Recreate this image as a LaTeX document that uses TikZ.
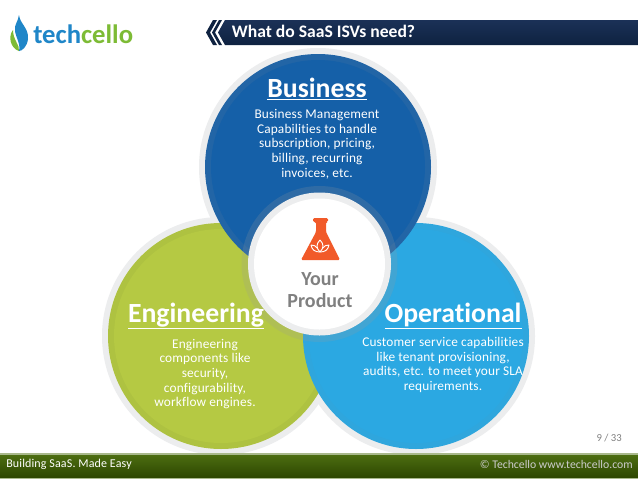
\documentclass[tikz,border=0pt]{standalone}
\usepackage{fontspec}
\setmainfont[Ligatures=NoCommon]{Carlito}
\newfontfamily\spaced[LetterSpace=1.2,Ligatures=NoCommon]{Carlito}
\usetikzlibrary{positioning}
\definecolor{bizblue}{HTML}{1560A8}
\definecolor{bizrim}{HTML}{2265A6}
\definecolor{enggreen}{HTML}{B5C943}
\definecolor{engrim}{HTML}{AEC241}
\definecolor{opsblue}{HTML}{2BA8E2}
\definecolor{opsrim}{HTML}{2FA6DD}
\definecolor{ringgrey}{HTML}{ECEDEE}
\definecolor{flask}{HTML}{F15A29}
\definecolor{navytop}{HTML}{1B3157}
\definecolor{navybot}{HTML}{0E2240}
\definecolor{foottop}{HTML}{4F7012}
\definecolor{footbot}{HTML}{2C4600}
\definecolor{footline}{HTML}{A9B98C}
\definecolor{logoblue}{HTML}{1F86C8}
\definecolor{logogreen}{HTML}{7DBB35}

\begin{document}
\begin{tikzpicture}[x=0.75pt,y=-0.75pt]

\tikzset{ring/.style = {shape=circle,fill=ringgrey,inner sep=0,minimum size=#1*0.75pt}}
\tikzset{disc/.style = {shape=circle,fill=#1,inner sep=0,minimum size=226*0.75pt}}
\tikzset{head/.style = {text=white,font=\fontsize{20.8}{24}\selectfont\bfseries}}
\tikzset{body/.style = {text=white,align=center,font=\spaced\fontsize{10}{11}\selectfont}}
\tikzset{prod/.style = {text=black!50,font=\fontsize{15}{16.5}\selectfont\bfseries}}
\tikzset{foot/.style = {text=white,font=\spaced\fontsize{9}{11}\selectfont}}

\useasboundingbox (0,0) rectangle (638,479);
\fill[white] (0,0) rectangle (638,479);

%title bar
\shade[top color=navytop,bottom color=navybot] (225,20) -- (638,20) -- (638,45) -- (225,45) -- (218,32.5) -- cycle;
\fill[navybot] (213,20) -- (217,20) -- (210,32.5) -- (217,45) -- (213,45) -- (206,32.5) -- cycle;
\fill[navybot] (219,20) -- (222,20) -- (215,32.5) -- (222,45) -- (219,45) -- (212,32.5) -- cycle;
\node[text=white,font=\fontsize{13.2}{16}\selectfont\bfseries] (title) at (323.5,31) {What do SaaS ISVs need?};

%logo
\fill[logoblue] (19,15) .. controls (20,24) and (29,28) .. (28,39) .. controls (27,47) and (22,51) .. (19,51) .. controls (21,44) and (15,36) .. (15,30) .. controls (14,25) and (18,22) .. (19,15);
\fill[logogreen] (13,30) .. controls (8,36) and (10,48) .. (19,51) .. controls (20,45) and (13,40) .. (13,30);
\node[font=\fontsize{20}{26}\selectfont\bfseries,inner sep=0,anchor=west] (logo) at (33,34) {\textcolor{logoblue}{tech}\textcolor{logogreen}{cello}};

%rings
\node[ring=238] (bizring) at (318,167) {};
\node[ring=238] (engring) at (221,336) {};
\node[ring=238] (opsring) at (416,336) {};

%discs
\node[disc=engrim] (engrimdisc) at (221,336) {};
\node[shape=circle,fill=enggreen,inner sep=0,minimum size=214*0.75pt] (engdisc) at (221,336) {};
\node[disc=opsrim] (opsrimdisc) at (416,336) {};
\node[shape=circle,fill=opsblue,inner sep=0,minimum size=214*0.75pt] (opsdisc) at (416,336) {};
\node[disc=bizrim] (bizrimdisc) at (318,167) {};
\node[shape=circle,fill=bizblue,inner sep=0,minimum size=214*0.75pt] (bizdisc) at (318,167) {};

%centre
\node[shape=circle,fill=black!40,fill opacity=0.2,inner sep=0,minimum size=156*0.75pt] (halo) at (319.5,264) {};
\node[ring=143] (prodring) at (319.5,264) {};
\node[shape=circle,fill=white,inner sep=0,minimum size=131*0.75pt] (proddisc) at (319.5,264) {};

%flask
\fill[flask,rounded corners=1pt] (313,218) -- (328,218) -- (328,222) -- (326,222) -- (326,232) -- (340,260) -- (301,260) -- (316,232) -- (316,222) -- (313,222) -- cycle;
\draw[white,line width=0.7pt,line join=round] (320,240) .. controls (316,244) and (316,248) .. (320,252) .. controls (324,248) and (324,244) .. (320,240);
\draw[white,line width=0.7pt,line join=round] (311,245) .. controls (312,250) and (315,252) .. (320,252) .. controls (325,252) and (328,250) .. (329,245) .. controls (326,245) and (324,246) .. (323,248);
\draw[white,line width=0.7pt] (311,245) .. controls (314,245) and (316,246) .. (317,248);

%texts
\node[head] (bizhead) at (317,89) {\underline{Business}};
\node[body] (biztext) at (317,144) {Business Management\\Capabilities to handle\\subscription, pricing,\\billing, recurring\\invoices, etc.};
\node[head] (enghead) at (196,316) {\underline{Engineering}};
\node[body] (engtext) at (205,374) {Engineering\\components like\\security,\\configurability,\\workflow engines.};
\node[head] (opshead) at (453,316) {\underline{Operational}};
\node[body] (opstext) at (443,365) {Customer service capabilities\\like tenant provisioning,\\audits, etc. to meet your SLA\\requirements.};
\node[prod] (your) at (320,279) {Your};
\node[prod] (product) at (320,301) {Product};

%page number
\node[text=black!50,font=\fontsize{8}{10}\selectfont,anchor=east,inner sep=0] (page) at (622,438) {9 / 33};

%footer
\shade[top color=foottop,bottom color=footbot] (0,453) rectangle (638,478);
\fill[footline] (0,453) rectangle (638,454.5);
\fill[footline] (0,477.5) rectangle (638,479);
\node[foot,anchor=west,inner sep=0] (slogan) at (6,464.5) {Building SaaS. Made Easy};
\node[text=black!20,font=\fontsize{8.8}{11}\selectfont,anchor=east,inner sep=0] (copy) at (633,464.5) {© Techcello www.techcello.com};

\end{tikzpicture}
\end{document}
